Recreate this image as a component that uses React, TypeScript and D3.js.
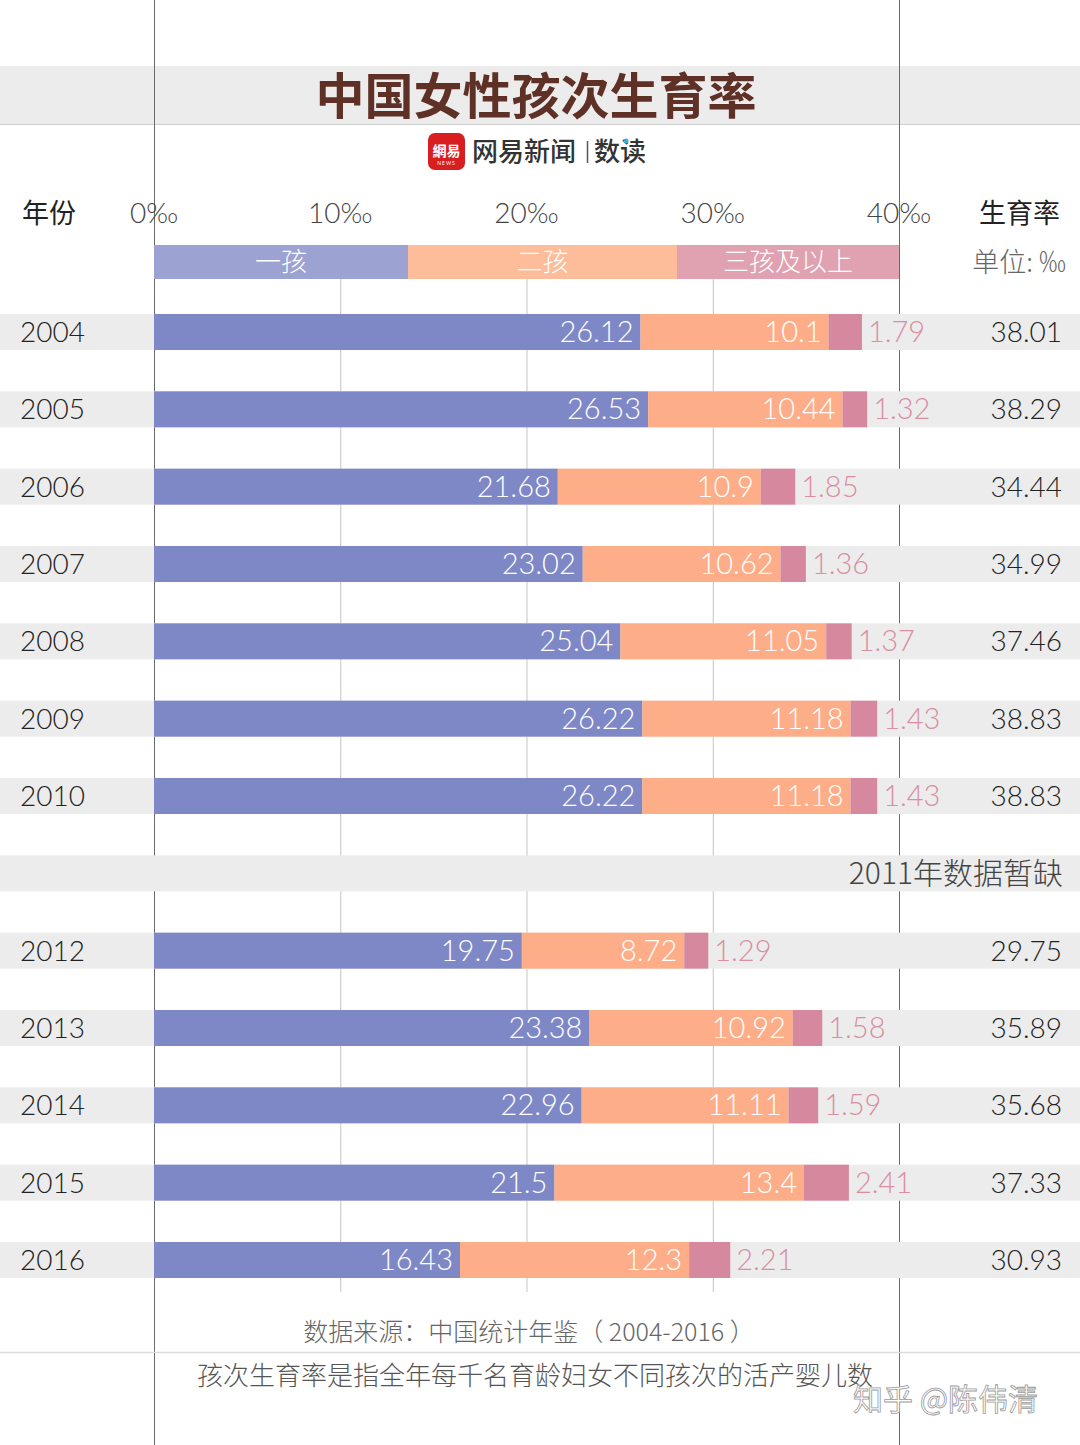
import React from "react";
import * as d3 from "d3";

const rowLabels = ["2004", "2005", "2006", "2007", "2008", "2009", "2010", "2011", "2012", "2013", "2014", "2015", "2016"];
const years = ["2004", "2005", "2006", "2007", "2008", "2009", "2010", "2012", "2013", "2014", "2015", "2016"];
const firstChild = [26.12, 26.53, 21.68, 23.02, 25.04, 26.22, 26.22, 19.75, 23.38, 22.96, 21.5, 16.43];
const secondChild = [10.1, 10.44, 10.9, 10.62, 11.05, 11.18, 11.18, 8.72, 10.92, 11.11, 13.4, 12.3];
const thirdPlus = [1.79, 1.32, 1.85, 1.36, 1.37, 1.43, 1.43, 1.29, 1.58, 1.59, 2.41, 2.21];
const totals = ["38.01", "38.29", "34.44", "34.99", "37.46", "38.83", "38.83", "29.75", "35.89", "35.68", "37.33", "30.93"];
const ticks = [0, 10, 20, 30, 40];
const legendNames = ["一孩", "二孩", "三孩及以上"];
const legendStops = [0, 13.64, 28.08, 40];

const W = 1080;
const H = 1445;
const CJK = "'Noto Sans CJK SC', 'Noto Sans', sans-serif";
const NUM = "Lato, 'Noto Sans', sans-serif";
const barColors = ["#7f88c6", "#fdae88", "#d6899e"];
const legendColors = ["#9ca2d1", "#fdbc9a", "#e0a2b1"];

export default function App() {
  const x = d3.scaleLinear().domain([0, 40]).range([154, 899]);
  const y = d3.scalePoint<string>().domain(rowLabels).range([332, 1260]);
  const bandH = 36;

  return (
    <div style={{ position: "absolute", left: 0, top: 0 }}>
      <svg width={W} height={H} style={{ display: "block", background: "#fff" }}>
        {/* title band */}
        <rect x={0} y={66} width={W} height={58} fill="#ececec" />
        <line x1={0} x2={W} y1={124.5} y2={124.5} stroke="#cfcfcf" />

        {/* light grid lines */}
        {ticks.slice(1, 4).map((t) => (
          <line key={"g" + t} x1={x(t) + 0.5} x2={x(t) + 0.5} y1={279} y2={1292} stroke="#c4c4c4" strokeWidth={1} />
        ))}
        {/* boundary lines */}
        {[0, 40].map((t) => (
          <line key={"v" + t} x1={x(t) + 0.5} x2={x(t) + 0.5} y1={0} y2={H} stroke="#6a6a6a" strokeWidth={1} />
        ))}

        {/* row bands (cover the vertical lines) */}
        {rowLabels.map((r) => (
          <rect key={"b" + r} x={0} y={(y(r) as number) - bandH / 2} width={W} height={bandH} fill="#ececec" />
        ))}

        {/* title */}
        <text x={536} y={114} textAnchor="middle" fontFamily={CJK} fontWeight={700} fontSize={49} fill="#5e3026">
          中国女性孩次生育率
        </text>

        {/* logo */}
        <rect x={428} y={133} width={37} height={37} rx={7} fill="#d81e1e" />
        <text x={446.5} y={156} textAnchor="middle" fontFamily={CJK} fontWeight={700} fontSize={14} fill="#fff">
          網易
        </text>
        <text x={446.5} y={165} textAnchor="middle" fontFamily={NUM} fontSize={5} fill="#fff" letterSpacing={1}>
          NEWS
        </text>
        <text x={472} y={161} fontFamily={CJK} fontWeight={500} fontSize={26} fill="#333">
          网易新闻
        </text>
        <line x1={587.5} x2={587.5} y1={141} y2={163} stroke="#555" strokeWidth={1.5} />
        <text x={594} y={161} fontFamily={CJK} fontWeight={500} fontSize={26} fill="#333">
          数读
        </text>
        <circle cx={626} cy={141} r={2.5} fill="#3fa9d6" />

        {/* header */}
        <text x={22} y={223} fontFamily={CJK} fontSize={27} fill="#222">年份</text>
        {ticks.map((t) => (
          <text key={"t" + t} x={x(t)} y={223} textAnchor="middle" fontFamily={NUM} fontWeight={300} fontSize={28} fill="#444">
            {t + "‰"}
          </text>
        ))}
        <text x={1060} y={223} textAnchor="end" fontFamily={CJK} fontSize={27} fill="#222">生育率</text>
        <text x={1066} y={272} textAnchor="end" fontFamily={CJK} fontWeight={300} fontSize={27} fill="#666">单位: ‰</text>

        {/* legend */}
        {legendNames.map((n, i) => (
          <g key={"l" + n}>
            <rect x={x(legendStops[i])} y={245} width={x(legendStops[i + 1]) - x(legendStops[i])} height={34} fill={legendColors[i]} />
            <text
              x={(x(legendStops[i]) + x(legendStops[i + 1])) / 2}
              y={271}
              textAnchor="middle"
              fontFamily={CJK}
              fontWeight={300}
              fontSize={26}
              fill="#fff"
            >
              {n}
            </text>
          </g>
        ))}

        {/* bars */}
        {years.map((yr, i) => {
          const cy = y(yr) as number;
          const a = firstChild[i];
          const b = secondChild[i];
          const c = thirdPlus[i];
          const x0 = x(0);
          const x1 = x(a);
          const x2 = x(a + b);
          const x3 = x(a + b + c);
          const ty = cy + 10;
          return (
            <g key={"r" + yr}>
              <text x={20} y={ty} fontFamily={NUM} fontWeight={300} fontSize={28} fill="#222">{yr}</text>
              <rect x={x0} y={cy - bandH / 2} width={x1 - x0} height={bandH} fill={barColors[0]} />
              <rect x={x1} y={cy - bandH / 2} width={x2 - x1} height={bandH} fill={barColors[1]} />
              <rect x={x2} y={cy - bandH / 2} width={x3 - x2} height={bandH} fill={barColors[2]} />
              <text x={x1 - 7} y={ty} textAnchor="end" fontFamily={NUM} fontWeight={300} fontSize={29} fill="#fff">{String(a)}</text>
              <text x={x2 - 7} y={ty} textAnchor="end" fontFamily={NUM} fontWeight={300} fontSize={29} fill="#fff">{String(b)}</text>
              <text x={x3 + 6} y={ty} fontFamily={NUM} fontWeight={300} fontSize={29} fill="#d98ea2">{String(c)}</text>
              <text x={1062} y={ty} textAnchor="end" fontFamily={NUM} fontWeight={300} fontSize={28} fill="#222">{totals[i]}</text>
            </g>
          );
        })}

        {/* missing year */}
        <text x={1063} y={(y("2011") as number) + 11} textAnchor="end" fontFamily={CJK} fontWeight={300} fontSize={30} fill="#444">
          2011年数据暂缺
        </text>

        {/* footer */}
        <text x={529} y={1341} textAnchor="middle" fontFamily={CJK} fontWeight={300} fontSize={25} fill="#666">
          数据来源：中国统计年鉴（ 2004-2016 ）
        </text>
        <line x1={0} x2={W} y1={1352.5} y2={1352.5} stroke="#dcdcdc" strokeWidth={1.5} />
        <text x={535} y={1385} textAnchor="middle" fontFamily={CJK} fontWeight={300} fontSize={26} fill="#555">
          孩次生育率是指全年每千名育龄妇女不同孩次的活产婴儿数
        </text>
        <text x={853} y={1410} fontFamily={CJK} fontSize={30} fill="#fff" stroke="#9a9a9a" strokeWidth={0.8}>
          知乎 @陈伟清
        </text>
      </svg>
    </div>
  );
}
